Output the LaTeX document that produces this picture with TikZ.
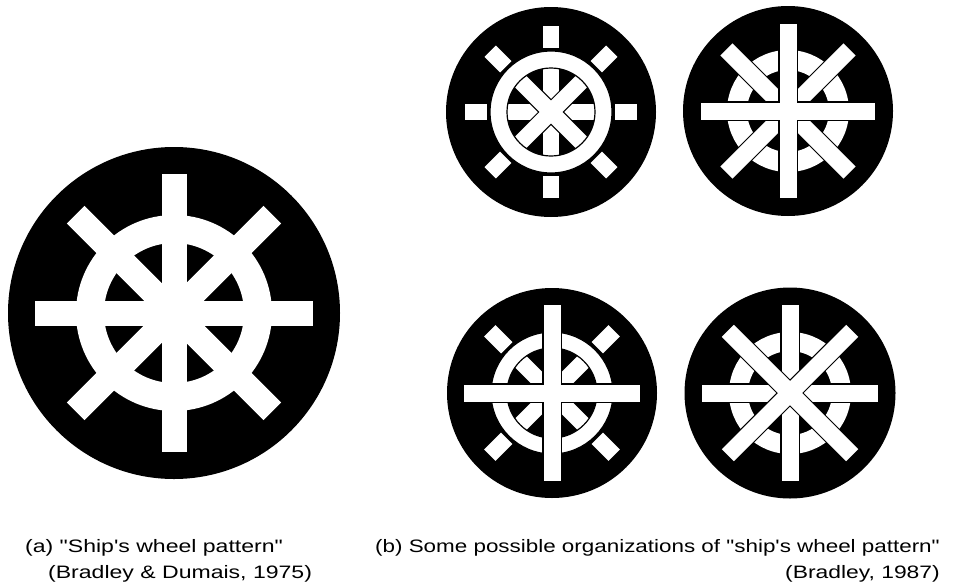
\documentclass[tikz,border=0pt]{standalone}
\usepackage{fontspec}
\newfontfamily\capfont{Liberation Sans}
\tikzset{
  disc/.style={fill=black},
  capt/.style={inner sep=0pt, font=\capfont\fontsize{18}{20}\selectfont, text=black},
}
% plain white bars: #1 centre, #2 angles, #3 r1, #4 r2, #5 half width
\newcommand\wbars[5]{%
  \foreach \a in {#2}{\fill[white,shift={#1},rotate=\a] (#3,-#5) rectangle (#4,#5);}}
% outlined white bars (outline of the union)
\newcommand\obars[5]{%
  \foreach \a in {#2}{\draw[black,line width=2.4pt,shift={#1},rotate=\a] (#3,-#5) rectangle (#4,#5);}%
  \foreach \a in {#2}{\fill[white,shift={#1},rotate=\a] (#3,-#5) rectangle (#4,#5);}}
% ring: #1 centre, #2 outer, #3 inner
\newcommand\wring[3]{\fill[white,even odd rule] #1 circle (#2) #1 circle (#3);}
\newcommand\oring[3]{\draw[black,line width=1.2pt,fill=white,even odd rule] #1 circle (#2) #1 circle (#3);}
\begin{document}
\begin{tikzpicture}[x=1pt,y=-1pt]
\useasboundingbox (0,0) rectangle (957,584);
% (a) big wheel
\coordinate (A) at (174,313);
\fill[disc] (A) circle (166);
\wring{(A)}{98}{70}
\wbars{(A)}{0,45,...,315}{0}{139}{12.5}
% (b1) top-left
\coordinate (B1) at (551,112);
\fill[disc] (B1) circle (105);
\wbars{(B1)}{0,90,180,270}{0}{45}{8}
\obars{(B1)}{45,135}{-45}{45}{8}
\oring{(B1)}{61}{44}
\wbars{(B1)}{0,45,...,315}{64}{86}{8}
% (b2) top-right
\coordinate (B2) at (788,111);
\fill[disc] (B2) circle (105);
\wring{(B2)}{61}{41}
\obars{(B2)}{45,135}{-87}{87}{8.5}
\obars{(B2)}{0,90}{-87}{87}{8.5}
% (b3) bottom-left
\coordinate (B3) at (552,393);
\fill[disc] (B3) circle (105);
\obars{(B3)}{45,135}{-46}{46}{8}
\oring{(B3)}{61}{45}
\wbars{(B3)}{45,135,225,315}{64}{88}{8}
\obars{(B3)}{0,90}{-88}{88}{8.5}
% (b4) bottom-right
\coordinate (B4) at (790,393);
\fill[disc] (B4) circle (105.5);
\wring{(B4)}{61}{42}
\obars{(B4)}{0,90}{-88}{88}{8.5}
\obars{(B4)}{45,135}{-88}{88}{8.5}
% captions
\node[capt,anchor=base west] (ca1) at (25,552) {\scalebox{1.28}[1]{(a) "Ship's wheel pattern"}};
\node[capt,anchor=base west] (ca2) at (48,578) {\scalebox{1.28}[1]{(Bradley \& Dumais, 1975)}};
\node[capt,anchor=base west] (cb1) at (375,552) {\scalebox{1.245}[1]{(b) Some possible organizations of "ship's wheel pattern"}};
\node[capt,anchor=base east] (cb2) at (940,578) {\scalebox{1.27}[1]{(Bradley, 1987)}};
\end{tikzpicture}
\end{document}
